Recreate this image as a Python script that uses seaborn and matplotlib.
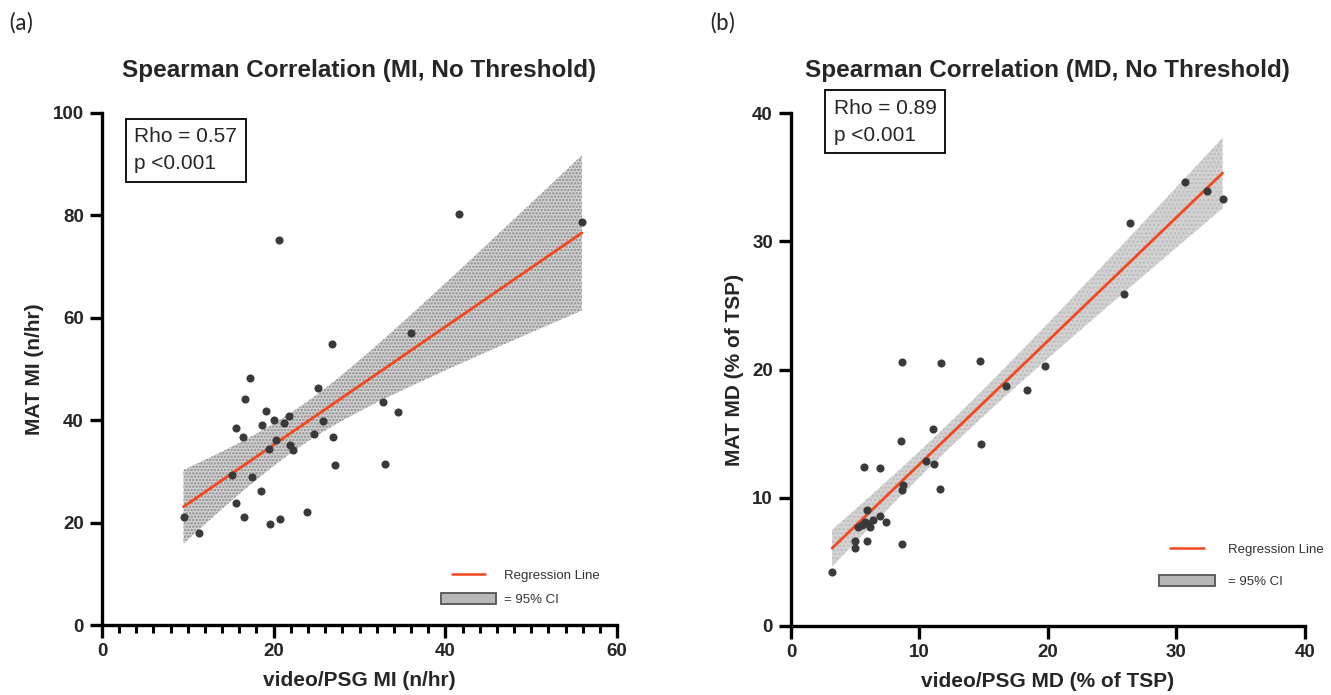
import matplotlib
matplotlib.use("Agg")
import matplotlib.pyplot as plt
import seaborn as sns
import numpy as np
from matplotlib.lines import Line2D
from matplotlib.patches import Patch
from matplotlib.legend_handler import HandlerLine2D
from matplotlib.ticker import MultipleLocator

# ---------------- data ----------------
mi_video = [9.5, 11.3, 17.2, 16.7, 19.1, 20.0, 21.2, 21.8, 15.6, 18.7, 16.4, 20.3,
            19.4, 21.9, 22.2, 15.1, 17.5, 18.5, 15.6, 16.5, 19.6, 20.7, 23.9, 25.2,
            25.7, 24.7, 26.9, 27.1, 26.8, 20.6, 36.0, 32.7, 34.5, 33.0, 41.6, 55.9]
mi_mat = [21.1, 17.9, 48.3, 44.1, 41.8, 40.0, 39.5, 40.8, 38.5, 39.0, 36.7, 36.1,
          34.3, 35.1, 34.1, 29.3, 28.9, 26.2, 23.8, 21.1, 19.8, 20.6, 22.1, 46.2,
          39.8, 37.2, 36.7, 31.25, 54.8, 75.1, 57.0, 43.6, 41.5, 31.4, 80.3, 78.7]

md_video = [3.2, 5.0, 5.0, 5.9, 5.24, 5.76, 5.96, 6.15, 6.4, 5.5, 5.9, 6.9, 7.4,
            8.64, 8.7, 8.64, 5.71, 6.9, 10.5, 11.15, 11.6, 11.08, 8.53, 14.8, 8.64,
            11.7, 14.7, 16.7, 18.4, 19.8, 25.9, 26.4, 30.7, 32.35, 33.6]
md_mat = [4.23, 6.06, 6.65, 6.6, 7.75, 8.1, 7.95, 7.75, 8.3, 7.9, 9.07, 8.6, 8.1,
          6.37, 11.0, 10.6, 12.4, 12.3, 12.9, 12.6, 10.7, 15.4, 14.4, 14.2, 20.6,
          20.5, 20.7, 18.7, 18.4, 20.3, 25.9, 31.4, 34.6, 33.9, 33.3]

titles = ["Spearman Correlation (MI, No Threshold)", "Spearman Correlation (MD, No Threshold)"]
xlabels = ["video/PSG MI (n/hr)", "video/PSG MD (% of TSP)"]
ylabels = ["MAT MI (n/hr)", "MAT MD (% of TSP)"]
stats = ["Rho = 0.57\np <0.001", "Rho = 0.89\np <0.001"]
panel_tags = ["(a)", "(b)"]
legend_labels = ["Regression Line", "= 95% CI"]

# ---------------- style ----------------
sns.set_style("ticks")
plt.rcParams["font.family"] = ["Liberation Sans", "DejaVu Sans"]
plt.rcParams["hatch.linewidth"] = 1.2

fig = plt.figure(figsize=(13.31, 6.95), dpi=100)
axL = fig.add_axes([0.0766, 0.1007, 0.387, 0.737])
axR = fig.add_axes([0.5943, 0.0993, 0.386, 0.738])

line_color = "#f4461f"
dot_color = "#3a3a3a"


class ShortLine(HandlerLine2D):
    def get_xdata(self, legend, xdescent, ydescent, width, height, fontsize):
        w = width * 0.6
        x0 = -xdescent + (width - w) / 2
        xd = np.array([x0, x0 + w])
        return xd, xd


def t975(df):
    z = 1.959964
    return (z + (z**3 + z) / (4 * df)
            + (5 * z**5 + 16 * z**3 + 3 * z) / (96 * df**2))


def ci_band(x, y):
    x = np.asarray(x, float)
    y = np.asarray(y, float)
    n = len(x)
    b, a = np.polyfit(x, y, 1)
    resid = y - (a + b * x)
    s = np.sqrt(np.sum(resid**2) / (n - 2))
    sxx = np.sum((x - x.mean())**2)
    grid = np.linspace(x.min(), x.max(), 200)
    fit = a + b * grid
    half = t975(n - 2) * s * np.sqrt(1 / n + (grid - x.mean())**2 / sxx)
    return grid, fit - half, fit + half


def draw(ax, x, y, xlim, ylim, xmaj, ymaj, xminor, title, xl, yl, stat, statpos,
         hatch, band_fc, hatch_ec, leg_anchor, leg_spacing, textpad):
    sns.regplot(x=np.array(x), y=np.array(y), ax=ax, ci=None, truncate=True,
                scatter_kws=dict(s=34, color=dot_color, linewidths=0, zorder=4, alpha=1),
                line_kws=dict(color=line_color, lw=2, zorder=3))
    gx, lo, hi = ci_band(x, y)
    ax.fill_between(gx, lo, hi, facecolor=band_fc, edgecolor=hatch_ec, hatch=hatch,
                    linewidth=0, zorder=2)
    ax.set_xlim(*xlim)
    ax.set_ylim(*ylim)
    ax.xaxis.set_major_locator(MultipleLocator(xmaj))
    ax.yaxis.set_major_locator(MultipleLocator(ymaj))
    if xminor:
        ax.xaxis.set_minor_locator(MultipleLocator(xminor))
        ax.tick_params(axis="x", which="minor", length=6, width=2.2, color="black")
    sns.despine(ax=ax)
    for s in ["left", "bottom"]:
        ax.spines[s].set_linewidth(2.4)
        ax.spines[s].set_color("black")
    ax.tick_params(axis="both", which="major", length=9, width=2.4, color="black",
                   labelsize=13.5, pad=4)
    for lab in ax.get_xticklabels() + ax.get_yticklabels():
        lab.set_fontweight("bold")
    ax.set_title(title, fontsize=17.5, fontweight="bold", pad=26)
    ax.set_xlabel(xl, fontsize=15, fontweight="bold", labelpad=8)
    ax.set_ylabel(yl, fontsize=15, fontweight="bold", labelpad=6)
    ax.text(statpos[0], statpos[1], stat, transform=ax.transAxes, va="top", ha="left",
            fontsize=15, linespacing=1.55, clip_on=False,
            bbox=dict(boxstyle="square,pad=0.4", fc="white", ec="black", lw=1.3))
    handles = [Line2D([0], [0], color=line_color, lw=1.8),
               Patch(facecolor="#b8b8b8", edgecolor="#555555", lw=1.3)]
    ax.legend(handles, legend_labels, loc="lower right", bbox_to_anchor=leg_anchor,
              frameon=False, fontsize=9.5, handlelength=4.2, handleheight=0.9,
              labelspacing=leg_spacing, handletextpad=textpad, labelcolor="#333333",
              handler_map={Line2D: ShortLine()})


draw(axL, mi_video, mi_mat, (0, 60), (0, 100), 20, 20, 2, titles[0], xlabels[0],
     ylabels[0], stats[0], (0.063, 0.972), ".....", "#d4d4d4", "#8a8a8a",
     (0.99, 0.014), 0.8, 0.6)
draw(axR, md_video, md_mat, (0, 40), (0, 40), 10, 10, None, titles[1], xlabels[1],
     ylabels[1], stats[1], (0.083, 1.028), "....", "#d3d3d3", "#bdbdbd",
     (1.06, 0.05), 1.5, 1.0)

fig.text(0.006, 0.967, panel_tags[0], fontsize=17, ha="left", va="center",
         family=["Carlito", "Liberation Sans", "DejaVu Sans"])
fig.text(0.533, 0.967, panel_tags[1], fontsize=17, ha="left", va="center",
         family=["Carlito", "Liberation Sans", "DejaVu Sans"])

fig.savefig("out.png", dpi=100)
